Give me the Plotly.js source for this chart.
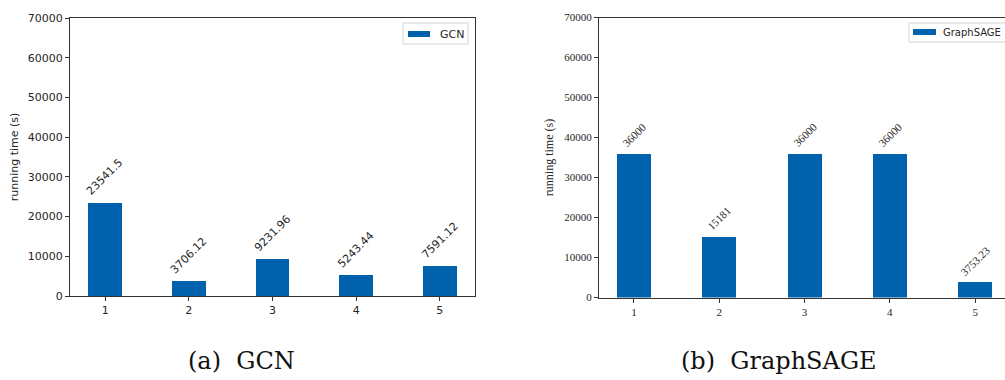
<!DOCTYPE html>
<html><head><meta charset="utf-8">
<script src="https://cdn.plot.ly/plotly-3.0.1.min.js"></script>
<style>html,body{margin:0;padding:0;background:#fff}#chart{width:1005px;height:380px}</style>
</head><body><div id="chart"></div>
<script>
const categories = [1, 2, 3, 4, 5];
const gcnTimes = [23541.5, 3706.12, 9231.96, 5243.44, 7591.12];
const gcnLabels = ['23541.5', '3706.12', '9231.96', '5243.44', '7591.12'];
const sageTimes = [36000, 15181, 36000, 36000, 3753.23];
const sageLabels = ['36000', '15181', '36000', '36000', '3753.23'];
const yTicks = [0, 10000, 20000, 30000, 40000, 50000, 60000, 70000];
const yTickText = ['0', '10000', '20000', '30000', '40000', '50000', '60000', '70000'];
const seriesNames = ['GCN', 'GraphSAGE'];
const captions = ['(a)\u00a0\u00a0GCN', '(b)\u00a0\u00a0GraphSAGE'];

const W = 1005, H = 380;
const px = v => v / W;
const py = v => 1 - v / H;
const barColor = '#0061ac';
const ink = '#262626';
const sans = 'DejaVu Sans';
const serif = 'Liberation Serif';

const traces = [
  {type: 'bar', x: categories, y: gcnTimes, width: 0.4, name: seriesNames[0],
   marker: {color: barColor}, xaxis: 'x', yaxis: 'y', showlegend: false, hoverinfo: 'none'},
  {type: 'bar', x: categories, y: sageTimes, width: 0.4, name: seriesNames[1],
   marker: {color: barColor}, xaxis: 'x2', yaxis: 'y2', showlegend: false, hoverinfo: 'none'}
];

function xAx(domain, range, anchor, font) {
  return {domain, range, anchor, tickvals: categories, ticktext: categories.map(String),
    ticks: 'outside', ticklen: 4, tickwidth: 1, tickcolor: '#333',
    showline: true, mirror: true, linecolor: '#333', linewidth: 1,
    showgrid: false, zeroline: false, tickfont: font, fixedrange: true};
}
function yAx(domain, anchor, font, mirror, titleFont, standoff) {
  return {domain, range: [0, 70000], anchor, tickvals: yTicks, ticktext: yTickText,
    ticks: 'outside', ticklen: 4, tickwidth: 1, tickcolor: '#333',
    showline: true, mirror, linecolor: '#333', linewidth: 1,
    showgrid: false, zeroline: false, tickfont: font, fixedrange: true,
    title: {text: 'running time (s)', font: titleFont, standoff}};
}

const leftTick = {family: sans, size: 11, color: ink};
const rightTick = {family: serif, size: 11, color: ink};

const annotations = [];
categories.forEach((c, i) => {
  annotations.push({x: c, y: gcnTimes[i], xref: 'x', yref: 'y', text: gcnLabels[i],
    textangle: -45, showarrow: false, xanchor: 'center', yanchor: 'bottom', yshift: 2,
    font: {family: sans, size: 11, color: ink}});
  annotations.push({x: c, y: sageTimes[i], xref: 'x2', yref: 'y2', text: sageLabels[i],
    textangle: -45, showarrow: false, xanchor: 'center', yanchor: 'bottom', yshift: 2,
    font: {family: serif, size: 11, color: ink}});
});
// legend texts
annotations.push({x: px(438), y: py(34), xref: 'paper', yref: 'paper', text: seriesNames[0],
  showarrow: false, xanchor: 'left', yanchor: 'middle', font: {family: sans, size: 11, color: ink}});
annotations.push({x: px(941), y: py(32.5), xref: 'paper', yref: 'paper', text: seriesNames[1],
  showarrow: false, xanchor: 'left', yanchor: 'middle', font: {family: sans, size: 10, color: ink}});
// captions
annotations.push({x: px(241), y: py(361), xref: 'paper', yref: 'paper', text: captions[0],
  showarrow: false, xanchor: 'center', yanchor: 'middle', font: {family: 'DejaVu Serif', size: 24, color: '#111'}});
annotations.push({x: px(779), y: py(361), xref: 'paper', yref: 'paper', text: captions[1],
  showarrow: false, xanchor: 'center', yanchor: 'middle', font: {family: 'DejaVu Serif', size: 24, color: '#111'}});

const shapes = [
  {type: 'rect', xref: 'paper', yref: 'paper', x0: px(403), x1: px(468), y0: py(44), y1: py(23),
   line: {color: '#d4d4d4', width: 1}, fillcolor: 'rgba(255,255,255,0.8)'},
  {type: 'rect', xref: 'paper', yref: 'paper', x0: px(408), x1: px(430), y0: py(37), y1: py(31),
   line: {width: 0}, fillcolor: barColor},
  {type: 'rect', xref: 'paper', yref: 'paper', x0: px(909), x1: px(1010), y0: py(42), y1: py(23),
   line: {color: '#d4d4d4', width: 1}, fillcolor: 'rgba(255,255,255,0.8)'},
  {type: 'rect', xref: 'paper', yref: 'paper', x0: px(913), x1: px(936), y0: py(35), y1: py(29),
   line: {width: 0}, fillcolor: barColor}
];

const layout = {
  width: W, height: H, margin: {l: 0, r: 0, t: 0, b: 0},
  paper_bgcolor: '#fff', plot_bgcolor: '#fff', showlegend: false, bargap: 0,
  xaxis: xAx([px(70), px(475)], [0.58, 5.42], 'y', leftTick),
  yaxis: yAx([py(296), py(18)], 'x', leftTick, true, {family: sans, size: 11, color: ink}, 6),
  xaxis2: xAx([px(599), 1], [0.59, 5.35], 'y2', rightTick),
  yaxis2: yAx([py(297.5), py(17.5)], 'x2', rightTick, false, {family: serif, size: 12, color: ink}, 8),
  annotations, shapes
};

Plotly.newPlot('chart', traces, layout, {staticPlot: true, displayModeBar: false});
</script></body></html>
